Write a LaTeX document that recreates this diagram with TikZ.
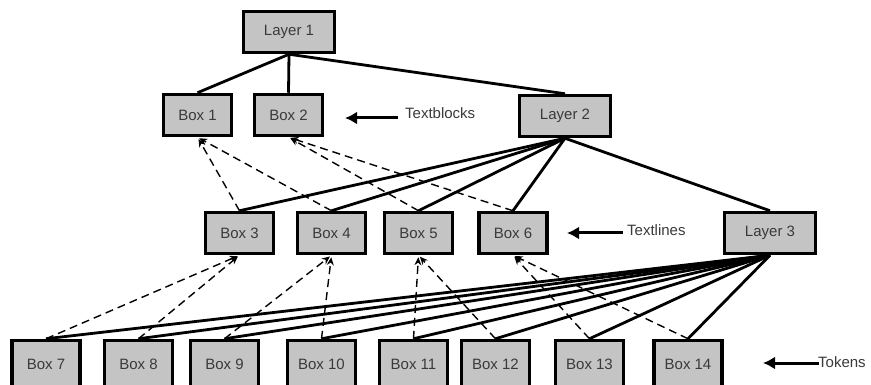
\documentclass[tikz,border=0pt]{standalone}
\usepackage{fontspec}
\setmainfont{Liberation Sans}
\usetikzlibrary{arrows.meta}
\definecolor{boxfill}{HTML}{C4C4C4}
\definecolor{txt}{HTML}{3A3A3A}
\begin{document}
\begin{tikzpicture}[x=1pt,y=-1pt,
  boxnode/.style={draw=black, line width=3.5pt, fill=boxfill, minimum width=68pt,
    minimum height=41pt, inner sep=0pt, font=\fontsize{15}{18}\selectfont, text=txt},
  layernode/.style={boxnode, minimum width=91pt},
  tokennode/.style={boxnode, minimum height=47pt},
  tree/.style={line width=2.8pt},
  ref/.style={line width=1.4pt, dash pattern=on 8pt off 5pt, shorten >=2pt,
    -{Stealth[length=8pt,width=7pt]}},
  lbl/.style={anchor=west, inner sep=0pt, font=\fontsize{15}{18}\selectfont, text=txt},
  lblarrow/.style={line width=3pt, -{Latex[length=12pt,width=13pt]}}
]
\useasboundingbox (0,0) rectangle (871,385);

% hierarchy boxes
\node[layernode] (L1) at (289,32) {Layer 1};
\node[boxnode] (B1) at (197.5,115) {Box 1};
\node[boxnode] (B2) at (288.5,115) {Box 2};
\node[layernode] (L2) at (565,116) {Layer 2};

\node[boxnode] (B3) at (239.5,233) {Box 3};
\node[boxnode] (B4) at (331.5,233) {Box 4};
\node[boxnode] (B5) at (418.5,233) {Box 5};
\node[boxnode] (B6) at (513,233) {Box 6};
\node[layernode] (L3) at (770,233) {Layer 3};

\node[tokennode] (B7) at (46,364) {Box 7};
\node[tokennode] (B8) at (138.5,364) {Box 8};
\node[tokennode] (B9) at (224.5,364) {Box 9};
\node[tokennode] (B10) at (321.5,364) {Box 10};
\node[tokennode] (B11) at (413.5,364) {Box 11};
\node[tokennode] (B12) at (495.5,364) {Box 12};
\node[tokennode] (B13) at (589.5,364) {Box 13};
\node[tokennode] (B14) at (688,364) {Box 14};

% tree edges from each parent to its children
\draw[tree] (L1.south) -- (B1.north);
\draw[tree] (L1.south) -- (B2.north);
\draw[tree] (L1.south) -- (L2.north);
\foreach \c in {B3,B4,B5,B6,L3} \draw[tree] (L2.south) -- (\c.north);
\foreach \c in {B7,B8,B9,B10,B11,B12,B13,B14} \draw[tree] (L3.south) -- (\c.north);

% dashed links from each element to its containing box
\draw[ref] (B3.north) -- (B1.south);
\draw[ref] (B4.north) -- (B1.south);
\draw[ref] (B5.north) -- (B2.south);
\draw[ref] (B6.north) -- (B2.south);
\draw[ref] (B7.north) -- (B3.south);
\draw[ref] (B8.north) -- (B3.south);
\draw[ref] (B9.north) -- (B4.south);
\draw[ref] (B10.north) -- (B4.south);
\draw[ref] (B11.north) -- (B5.south);
\draw[ref] (B12.north) -- (B5.south);
\draw[ref] (B13.north) -- (B6.south);
\draw[ref] (B14.north) -- (B6.south);

% level labels
\node[lbl] (tb) at (405,113) {Textblocks};
\coordinate (tbtail) at (398,118);
\coordinate (tbtip) at (345,118);
\draw[lblarrow] (tbtail) -- (tbtip);

\node[lbl] (tl) at (627,230) {Textlines};
\coordinate (tltail) at (623,233);
\coordinate (tltip) at (567,233);
\draw[lblarrow] (tltail) -- (tltip);

\node[lbl] (tk) at (818,362) {Tokens};
\coordinate (tktail) at (819,363);
\coordinate (tktip) at (763,363);
\draw[lblarrow] (tktail) -- (tktip);
\end{tikzpicture}
\end{document}
